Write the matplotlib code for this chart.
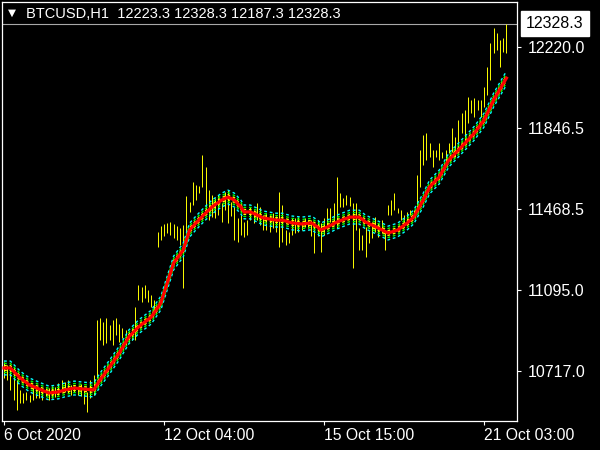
"""
BTCUSD H1 bar chart with MA ribbon, MetaTrader style.
"""
import matplotlib
matplotlib.use("Agg")
import matplotlib.pyplot as plt
from matplotlib.transforms import blended_transform_factory

# ── bar highs / lows ───────────────────────────────────────────────────────
highs = [10759, 10745, 10736, 10736, 10675, 10629, 10615, 10620, 10606, 10652,
         10643, 10629, 10624, 10638, 10638, 10647, 10643, 10661, 10675, 10666,
         10675, 10652, 10647, 10643, 10657, 10629, 10620, 10675, 10698, 10954,
         10963, 10944, 10963, 10930, 10954, 10963, 10935, 10916, 10907, 10898,
         10916, 11014, 11116, 11107, 11116, 11093, 11070, 11046, 11362, 11390,
         11399, 11404, 11408, 11399, 11390, 11380, 11394, 11529, 11501, 11594,
         11580, 11575, 11719, 11663, 11557, 11533, 11520, 11533, 11496, 11547,
         11557, 11501, 11478, 11427, 11441, 11408, 11417, 11478, 11464, 11496,
         11478, 11441, 11450, 11441, 11450, 11436, 11547, 11487, 11371, 11362,
         11427, 11427, 11431, 11408, 11427, 11417, 11417, 11404, 11417, 11404,
         11427, 11473, 11473, 11496, 11617, 11543, 11520, 11533, 11524, 11496,
         11496, 11380, 11348, 11385, 11371, 11408, 11431, 11404, 11417, 11371,
         11487, 11510, 11543, 11473, 11464, 11441, 11455, 11464, 11464, 11626,
         11742, 11812, 11821, 11775, 11742, 11742, 11775, 11733, 11742, 11775,
         11844, 11803, 11881, 11914, 11928, 11988, 11974, 11983, 11974, 11974,
         12034, 12127, 12239, 12308, 12285, 12252, 12262, 12328.3]
lows = [10685, 10675, 10629, 10582, 10536, 10569, 10569, 10582, 10573, 10582,
        10592, 10592, 10582, 10601, 10582, 10592, 10596, 10606, 10629, 10620,
        10615, 10606, 10620, 10606, 10601, 10564, 10527, 10592, 10606, 10685,
        10861, 10838, 10847, 10861, 10838, 10884, 10851, 10870, 10838, 10851,
        10861, 10861, 11046, 11037, 11056, 11037, 11014, 10986, 11292, 11325,
        11343, 11357, 11348, 11334, 11325, 11301, 11102, 11325, 11455, 11487,
        11510, 11543, 11571, 11464, 11417, 11431, 11427, 11441, 11408, 11464,
        11404, 11436, 11325, 11315, 11348, 11339, 11348, 11417, 11404, 11417,
        11394, 11371, 11371, 11362, 11380, 11362, 11292, 11315, 11301, 11311,
        11348, 11357, 11362, 11371, 11385, 11380, 11343, 11264, 11343, 11269,
        11348, 11380, 11408, 11408, 11380, 11478, 11478, 11487, 11482, 11195,
        11371, 11278, 11278, 11246, 11311, 11334, 11362, 11339, 11357, 11278,
        11441, 11441, 11464, 11450, 11417, 11408, 11417, 11441, 11431, 11473,
        11571, 11673, 11696, 11710, 11663, 11710, 11696, 11705, 11687, 11728,
        11733, 11710, 11742, 11821, 11789, 11867, 11914, 11895, 11928, 11895,
        11942, 11997, 12067, 12192, 12206, 12127, 12197, 12192]

# ── moving average (red centre line) ─────────────────────────────────────
ma_idx = [0, 2, 5, 8, 11, 14, 17, 19, 22, 25, 28, 30, 33, 36, 39, 42, 46, 49,
          51, 53, 56, 58, 60, 63, 65, 68, 70, 72, 74, 75, 77, 79, 81, 85, 87,
          90, 93, 96, 98, 99, 101, 104, 108, 111, 113, 117, 120, 123, 126, 128,
          131, 133, 136, 139, 142, 145, 147, 150, 153, 157]
ma_val = [10731, 10731, 10685, 10652, 10633, 10615, 10620, 10629, 10638, 10633,
          10629, 10675, 10736, 10800, 10875, 10921, 10967, 11032, 11125, 11218,
          11278, 11371, 11404, 11450, 11478, 11510, 11524, 11510, 11478, 11455,
          11455, 11441, 11427, 11417, 11417, 11404, 11399, 11404, 11385, 11371,
          11385, 11408, 11431, 11431, 11408, 11380, 11357, 11371, 11404, 11431,
          11510, 11571, 11617, 11696, 11742, 11789, 11821, 11881, 11974, 12076]

# ribbon lines around the centre MA (price offsets)
band_offsets = [32, 21, 11]
band_colors = ["#00ffff", "#00ff00", "#ffff00"]

xtick_pos = [0, 50, 100, 150]
xtick_labels = ["6 Oct 2020", "12 Oct 04:00", "15 Oct 15:00", "21 Oct 03:00"]
ytick_vals = [12220.0, 11846.5, 11468.5, 11095.0, 10717.0]
last_price = 12328.3
header = "BTCUSD,H1  12223.3 12328.3 12187.3 12328.3"

FONT = "Liberation Sans"
W, H = 600, 450

fig = plt.figure(figsize=(6, 4.5), dpi=100, facecolor="black")
ax = fig.add_axes([2 / W, 29 / H, 515 / W, 419 / H], facecolor="black")

idx = list(range(len(highs)))
ax.vlines(idx, lows, highs, color="#ffff00", lw=0.7, zorder=2)

for off, col in zip(band_offsets, band_colors):
    for sign in (1, -1):
        ax.plot(ma_idx, [v + sign * off for v in ma_val], color=col, lw=1.0,
                ls=(0, (2, 2)), zorder=3)
ax.plot(ma_idx, ma_val, color="#ff0000", lw=2.3, zorder=4,
        solid_joinstyle="round")

ax.axhline(last_price, color="#a8a8a8", lw=0.8, zorder=1)

ax.set_xlim(-0.625, 160.3)
ax.set_ylim(10485, 12429)

ax.set_xticks(xtick_pos)
ax.set_xticklabels(xtick_labels, ha="left", fontsize=11.3, family=FONT, color="white")
ax.set_yticks(ytick_vals)
ax.set_yticklabels([f"{v:.1f}" for v in ytick_vals], fontsize=11.5, family=FONT,
                   color="white")
ax.yaxis.tick_right()
ax.tick_params(axis="x", colors="white", direction="out", length=3, width=0.8, pad=2)
ax.tick_params(axis="y", colors="white", direction="out", length=3, width=0.8, pad=5)
for sp in ax.spines.values():
    sp.set_color("white")
    sp.set_linewidth(0.9)

# last price marker on the price scale
trans = blended_transform_factory(ax.transAxes, ax.transData)
ax.annotate(f"{last_price:.1f}", xy=(1.0, last_price), xycoords=trans,
            xytext=(6.5, 0), textcoords="offset points",
            ha="left", va="center", fontsize=11.5, family=FONT, color="black",
            bbox=dict(boxstyle="square,pad=0.32", fc="white", ec="white"),
            annotation_clip=False, zorder=6)

# chart header
fig.text(12 / W, 1 - 13 / H, "\u25bc", ha="center", va="center", fontsize=7.5,
         color="white", family="DejaVu Sans")
fig.text(26 / W, 1 - 14 / H, header, ha="left", va="center", fontsize=10.5,
         family=FONT, color="white")

fig.savefig("out.png", dpi=100, facecolor="black")
